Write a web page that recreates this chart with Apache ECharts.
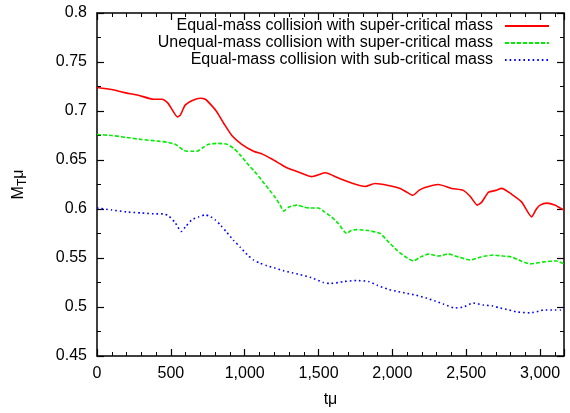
<!DOCTYPE html>
<html>
<head>
<meta charset="utf-8">
<script src="https://cdn.jsdelivr.net/npm/echarts@6/dist/echarts.min.js"></script>
<style>html,body{margin:0;padding:0;background:#fff}#c{width:570px;height:413px}</style>
</head>
<body>
<div id="c"></div>
<script>
// Series names
const names = [
  'Equal-mass collision with super-critical mass',
  'Unequal-mass collision with super-critical mass',
  'Equal-mass collision with sub-critical mass'
];
// Equal-mass, super-critical (red)
const redT = [0,100,180,280,383,440,480,510,545,565,597,650,699,733,780,812,860,913,980,1060,1120,1184,1240,1286,1376,1455,1500,1545,1600,1660,1714,1815,1883,1973,2052,2100,2138,2180,2221,2311,2402,2480,2526,2575,2605,2650,2700,2740,2808,2876,2943,2975,3000,3045,3100,3135,3162];
const redM = [0.724,0.722,0.719,0.716,0.712,0.712,0.708,0.701,0.694,0.696,0.706,0.711,0.713,0.712,0.705,0.699,0.687,0.675,0.666,0.659,0.656,0.651,0.646,0.642,0.637,0.633,0.635,0.637,0.634,0.630,0.627,0.623,0.626,0.624,0.621,0.617,0.614,0.619,0.622,0.625,0.621,0.619,0.613,0.604,0.607,0.617,0.619,0.621,0.615,0.607,0.592,0.600,0.604,0.606,0.604,0.601,0.599];
// Unequal-mass, super-critical (green)
const greenT = [0,100,200,300,428,480,530,586,609,643,677,720,755,820,880,925,970,1026,1080,1127,1170,1206,1240,1263,1300,1353,1400,1443,1499,1540,1579,1635,1691,1720,1759,1838,1917,1970,2030,2090,2142,2190,2244,2311,2379,2450,2526,2600,2683,2750,2808,2870,2932,3022,3112,3162];
const greenM = [0.676,0.675,0.673,0.671,0.669,0.668,0.666,0.660,0.659,0.659,0.659,0.663,0.666,0.667,0.666,0.662,0.655,0.645,0.636,0.627,0.619,0.612,0.604,0.598,0.602,0.604,0.602,0.601,0.601,0.597,0.593,0.585,0.575,0.578,0.579,0.578,0.575,0.567,0.558,0.551,0.547,0.551,0.554,0.552,0.554,0.551,0.548,0.551,0.553,0.552,0.551,0.547,0.544,0.546,0.547,0.544];
// Equal-mass, sub-critical (blue)
const blueT = [0,100,200,300,400,451,484,530,570,600,643,690,733,770,800,840,880,925,970,1020,1060,1100,1150,1200,1263,1320,1376,1450,1533,1579,1635,1669,1759,1838,1900,1973,2030,2097,2160,2233,2290,2345,2424,2480,2548,2616,2680,2729,2790,2842,2932,3000,3022,3100,3140,3162];
const blueM = [0.601,0.599,0.597,0.596,0.595,0.595,0.593,0.586,0.577,0.582,0.589,0.592,0.594,0.592,0.589,0.583,0.576,0.568,0.561,0.553,0.548,0.545,0.542,0.540,0.537,0.535,0.533,0.530,0.525,0.524,0.525,0.526,0.527,0.526,0.522,0.518,0.516,0.514,0.512,0.509,0.506,0.503,0.499,0.500,0.504,0.502,0.501,0.499,0.497,0.495,0.494,0.496,0.497,0.497,0.497,0.500];

const xMin = 0, xMax = 3162, xStep = 500;
const yMin = 0.45, yMax = 0.8, yStep = 0.05;

const pair = (t, m) => t.map((v, i) => [v, m[i]]);
const FONT = 'Liberation Sans, Arial, sans-serif';

const chart = echarts.init(document.getElementById('c'));

function frameAxis(pos, min, max, step, minorSplit) {
  return {
    type: 'value', min: min, max: max, interval: step, position: pos,
    axisLine: {show: true, onZero: false, lineStyle: {color: '#000', width: 1.5}},
    axisTick: {show: true, inside: true, length: 7, lineStyle: {color: '#000', width: 1.2}},
    axisLabel: {show: true, fontSize: 16, fontFamily: FONT, color: '#000', margin: 10},
    minorTick: {show: true, splitNumber: minorSplit, length: 4, lineStyle: {color: '#000', width: 1}},
    splitLine: {show: false},
    minorSplitLine: {show: false}
  };
}

const legendItem = (name, top) => ({
  data: [name],
  right: 20,
  top: top,
  padding: 0,
  align: 'right',
  orient: 'vertical',
  itemWidth: 44,
  itemHeight: 12,
  selectedMode: false,
  itemStyle: {color: 'transparent', borderWidth: 0, opacity: 0},
  textStyle: {fontSize: 16, fontFamily: FONT, color: '#000', padding: [0, 7, 0, 0]}
});

const xMain = frameAxis('bottom', xMin, xMax, xStep, 5);
xMain.name = 'tμ';
xMain.nameLocation = 'middle';
xMain.nameGap = 36;
xMain.nameTextStyle = {fontSize: 16, fontFamily: FONT, color: '#000'};

const xTop = frameAxis('top', xMin, xMax, xStep, 5);
xTop.axisLabel = {show: false};

const yMain = frameAxis('left', yMin, yMax, yStep, 2);
yMain.name = '{a|M}{b|T}{a|μ}';
yMain.nameLocation = 'middle';
yMain.nameGap = 68;
yMain.nameRotate = 90;
yMain.nameTextStyle = {fontFamily: FONT, color: '#000',
  rich: {a: {fontSize: 16, fontFamily: FONT, color: '#000'},
         b: {fontSize: 12, fontFamily: FONT, color: '#000', padding: [9, 0, 0, 0], verticalAlign: 'top'}}};

const yRight = frameAxis('right', yMin, yMax, yStep, 2);
yRight.axisLabel = {show: false};

chart.setOption({
  animation: false,
  grid: {left: 97, right: 6, top: 13, bottom: 52, containLabel: false},
  legend: [legendItem(names[0], 18), legendItem(names[1], 35), legendItem(names[2], 52)],
  xAxis: [xMain, xTop],
  yAxis: [yMain, yRight],
  series: [
    {name: names[0], type: 'line', data: pair(redT, redM), symbol: 'none', smooth: 0.2,
     color: '#ff0000', lineStyle: {color: '#ff0000', width: 1.6, type: 'solid'}},
    {name: names[1], type: 'line', data: pair(greenT, greenM), symbol: 'none', smooth: 0.2,
     color: '#00ee00', lineStyle: {color: '#00ee00', width: 1.6, type: [4, 2]}},
    {name: names[2], type: 'line', data: pair(blueT, blueM), symbol: 'none', smooth: 0.2,
     color: '#0000ff', lineStyle: {color: '#0000ff', width: 1.6, type: [1.6, 3]}}
  ]
});
</script>
</body>
</html>
